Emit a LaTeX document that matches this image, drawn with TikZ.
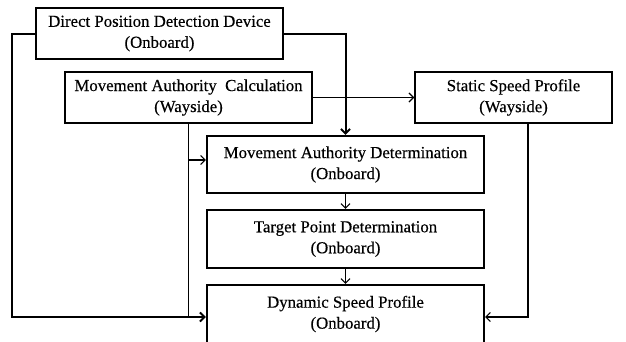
\documentclass[tikz,border=0pt]{standalone}
\usepackage{fontspec}
\setmainfont[FakeBold=0.4]{Liberation Serif}
\usetikzlibrary{arrows.meta}
\begin{document}
\begin{tikzpicture}[x=1pt,y=-1pt,
  box/.style={draw, line width=1.5pt, align=center, inner sep=0pt,
    font=\fontsize{16.8}{21}\selectfont},
  tbox/.style={box, line width=2.3pt},
  conn/.style={line width=1.1pt, -{Straight Barb[length=4.5pt,width=9pt]}},
  tconn/.style={line width=2pt, -{Straight Barb[length=4.5pt,width=9pt]}},
  plain/.style={line width=1.1pt}]
\useasboundingbox (0,0) rectangle (626,341);
\node[box, minimum width=247pt, minimum height=51pt] (dpdd) at (159.5,33.5) {Direct Position Detection Device\\(Onboard)};
\node[box, minimum width=247pt, minimum height=51pt] (mac) at (188.5,97.5) {Movement Authority\ \ Calculation\\(Wayside)};
\node[box, minimum width=197pt, minimum height=51pt] (ssp) at (513.5,97.5) {Static Speed Profile\\(Wayside)};
\node[tbox, minimum width=277pt, minimum height=57pt] (mad) at (345.5,164.5) {Movement Authority Determination\\(Onboard)};
\node[tbox, minimum width=277pt, minimum height=58pt] (tpd) at (345.5,239) {Target Point Determination\\(Onboard)};
\node[tbox, minimum width=277pt, minimum height=58pt] (dsp) at (345.5,314) {Dynamic Speed Profile\\(Onboard)};
\coordinate (jl) at (12,317);
\coordinate (jm) at (188.5,317);
\coordinate (jma) at (188.5,160);
\coordinate (xr) at (528,317);
\draw[tconn] (dpdd.west) -| (jl) -- (jl -| dsp.west);
\draw[tconn] (dpdd.east) -| (mad.north);
\draw[conn] (mac.east) -- (ssp.west);
\draw[plain] (mac.south) -- (jm);
\draw[conn] (jma) -- (jma -| mad.west);
\draw[conn] (ssp.south -| xr) -- (xr) -- (xr -| dsp.east);
\draw[conn] (mad.south) -- (tpd.north);
\draw[conn] (tpd.south) -- (dsp.north);
\end{tikzpicture}
\end{document}
